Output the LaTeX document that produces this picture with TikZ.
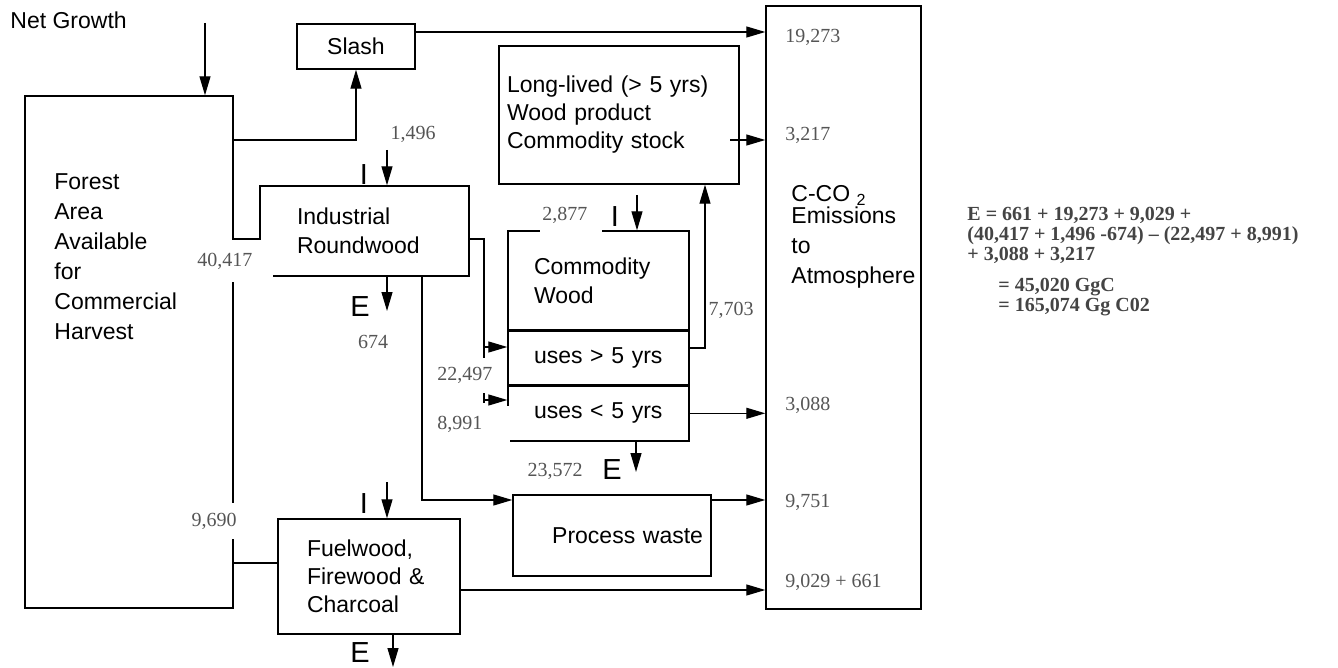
\documentclass[tikz,border=0pt]{standalone}
\usepackage{fontspec}
\setmainfont{Liberation Sans}
\newfontfamily\numfont{Liberation Serif}
\usetikzlibrary{arrows.meta, positioning}
\definecolor{numgray}{RGB}{85,85,85}
\definecolor{eqgray}{RGB}{68,68,68}

\begin{document}
\begin{tikzpicture}[x=0.5pt, y=-0.5pt,
  font=\fontsize{11.5}{14.5}\selectfont,
  box/.style={draw, line width=0.7pt, inner ysep=0pt, align=left},
  txt/.style={inner sep=0pt, align=left},
  num/.style={font=\numfont\fontsize{10}{12}\selectfont, text=numgray, inner sep=0pt},
  gap/.style={num, fill=white},
  ioletter/.style={font=\fontsize{14.5}{16}\selectfont, inner sep=0pt},
  link/.style={line width=0.6pt},
  flow/.style={link, -{Triangle[length=9.5pt, width=5.5pt]}}]
\useasboundingbox (0,0) rectangle (1338,668);

% Boxes
\node[box, minimum width=104pt, minimum height=256pt] (forest) at (129,352) {};
\node[txt, font=\fontsize{11.5}{15}\selectfont, anchor=west] (foresttxt) at (54,257) {Forest\\Area\\Available\\for\\Commercial\\Harvest};
\node[box, minimum width=59pt, minimum height=22.5pt, align=center] (slash) at (356,46.5) {Slash};
\node[box, minimum height=45pt, text width=67.5pt, inner xsep=18.5pt] (industrial) at (364.5,231) {Industrial\\Roundwood};
\node[box, minimum height=69pt, text width=112pt, inner xsep=4pt, font=\fontsize{11.5}{14}\selectfont] (longlived) at (619,115) {Long-lived (> 5 yrs)\\Wood product\\Commodity stock};
\node[box, minimum height=49.5pt, text width=64.5pt, inner xsep=13pt] (comtop) at (598.5,280.5) {Commodity\\Wood};
\node[box, minimum height=26.5pt, text width=64.5pt, inner xsep=13pt, below=0pt of comtop] (uses5plus) {uses > 5 yrs};
\node[box, minimum height=27.5pt, text width=64.5pt, inner xsep=13pt, below=0pt of uses5plus] (uses5minus) {uses < 5 yrs};
\node[box, minimum height=40.5pt, text width=91pt, inner xsep=4pt, align=right] (process) at (612,535.5) {Process waste};
\node[box, minimum height=57.5pt, text width=62pt, inner xsep=14.5pt, font=\fontsize{11.5}{14}\selectfont] (fuel) at (369,576.5) {Fuelwood,\\Firewood \&\\Charcoal};
\node[box, minimum width=77.5pt, minimum height=301.5pt] (emis) at (843.5,307.5) {};
\node[txt, font=\fontsize{11.5}{15}\selectfont, anchor=west] (emistxt) at (791,237) {C-CO \textsubscript{2}\\[-4pt]Emissions\\to\\Atmosphere};

\node[txt, anchor=west] (growthtxt) at (10,20) {Net Growth};

% Inputs and emissions
\node[ioletter] (iind) at (364,175) {I};
\node[ioletter] (eind) at (360,307) {E};
\node[ioletter] (icom) at (615,217) {I};
\node[ioletter] (ecom) at (612,470) {E};
\node[ioletter] (ifuel) at (364,504) {I};
\node[ioletter] (efuel) at (360,653) {E};

\coordinate (growth) at (205,23);
\coordinate (iindin) at (387,150);
\coordinate (eindout) at (387,311);
\coordinate (icomin) at (637,195);
\coordinate (ecomout) at (636,472);
\coordinate (ifuelin) at (387,482);
\coordinate (efuelout) at (393,667);
\coordinate (rwsplit) at (484,239);
\coordinate (rwdrop) at (422,500);
\coordinate (wpriser) at (705,348);
\coordinate (wpout) at (730,140);

% Flows
\draw[flow] (growth) -- (growth |- forest.north);
\draw[flow] (forest.east |- 0,140) -| (slash.south);
\draw[flow] (slash.east |- 0,32) -- (emis.west |- 0,32);
\draw[link] (forest.east |- rwsplit) -- (industrial.west |- rwsplit);
\draw[flow] (iindin) -- (iindin |- industrial.north);
\draw[flow] (industrial.south -| eindout) -- (eindout);
\draw[link] (industrial.east |- rwsplit) -- (rwsplit) -- (rwsplit |- 0,403);
\draw[flow] (rwsplit |- 0,347) -- (uses5plus.west |- 0,347);
\draw[flow] (rwsplit |- 0,400) -- (uses5minus.west |- 0,400);
\draw[flow] (industrial.south -| rwdrop) -- (rwdrop) -- (process.west |- rwdrop);
\draw[flow] (icomin) -- (icomin |- comtop.north);
\draw[flow] (uses5plus.east |- wpriser) -- (wpriser) -- (wpriser |- longlived.south);
\draw[flow] (wpout) -- (emis.west |- wpout);
\draw[flow] (uses5minus.east) -- (emis.west |- uses5minus.east);
\draw[flow] (uses5minus.south -| ecomout) -- (ecomout);
\draw[flow] (process.east |- rwdrop) -- (emis.west |- rwdrop);
\draw[link] (forest.east |- 0,563) -- (fuel.west |- 0,563);
\draw[flow] (ifuelin) -- (ifuelin |- fuel.north);
\draw[flow] (fuel.south -| efuelout) -- (efuelout);
\draw[flow] (fuel.east |- 0,590) -- (emis.west |- 0,590);

% Values
\node[num] (n1496) at (413,134) {1,496};
\node[gap, anchor=west, inner xsep=3.5pt, minimum height=21pt] (n40417) at (190,261) {40,417\kern7pt};
\node[num] (n674) at (373,342) {674};
\node[gap, anchor=west, inner xsep=1pt, minimum height=17.5pt] (n2877) at (540,215) {2,877\kern6.5pt};
\node[gap, anchor=west, inner xsep=3.5pt, minimum height=17.5pt] (n22497) at (430,375.5) {22,497\kern4pt};
\node[gap, anchor=west, inner xsep=3.5pt, minimum height=18pt] (n8991) at (430,424) {8,991\kern10.5pt};
\node[num] (n7703) at (731,310) {7,703};
\node[num] (n23572) at (555,471) {23,572};
\node[gap, inner xsep=2pt, minimum height=18pt] (n9690) at (214,521) {9,690};
\node[num, anchor=west] (n19273) at (785,37) {19,273};
\node[num, anchor=west] (n3217) at (785,135) {3,217};
\node[num, anchor=west] (n3088) at (785,405) {3,088};
\node[num, anchor=west] (n9751) at (785,502) {9,751};
\node[num, anchor=west] (n9029) at (785,582) {9,029 + 661};

% Balance
\node[txt, anchor=west, font=\numfont\bfseries\fontsize{10}{10}\selectfont, text=eqgray] (balance) at (967,262) {E = 661 + 19,273 + 9,029 +\\(40,417 + 1,496 -674) – (22,497 + 8,991)\\+ 3,088 + 3,217\\[5.5pt]\hspace*{15.5pt}= 45,020 GgC\\\hspace*{15.5pt}= 165,074 Gg C02};
\end{tikzpicture}
\end{document}
